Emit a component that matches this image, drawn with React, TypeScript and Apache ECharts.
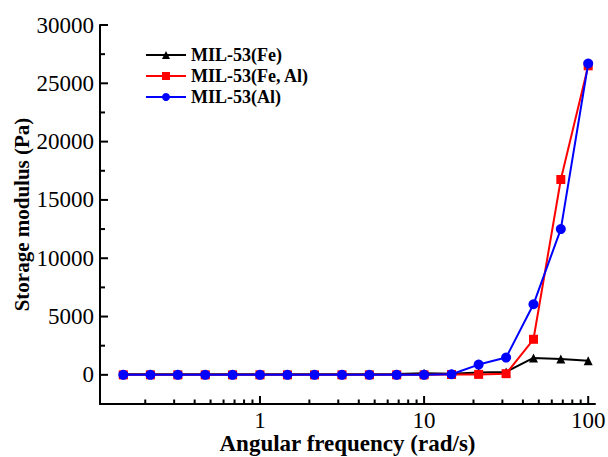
import React, { useEffect, useRef } from "react";
import * as echarts from "echarts";

const frequencies = [0.147, 0.215, 0.316, 0.464, 0.681, 1, 1.47, 2.15, 3.16, 4.64, 6.81, 10, 14.7, 21.5, 31.6, 46.4, 68.1, 100];
const feValues = [50, 50, 50, 50, 50, 50, 50, 50, 50, 60, 80, 130, 100, 200, 250, 1450, 1350, 1200];
const feAlValues = [0, 0, 0, 0, 0, 0, 0, 0, 0, 0, 0, 0, 30, 40, 100, 3050, 16750, 26500];
const alValues = [0, 0, 0, 0, 0, 0, 0, 0, 0, 0, 0, 0, 50, 880, 1480, 6050, 12500, 26700];
const seriesNames = ["MIL-53(Fe)", "MIL-53(Fe, Al)", "MIL-53(Al)"];
const seriesColors = ["#000000", "#ff0000", "#0000ff"];
const seriesSymbols = ["triangle", "rect", "circle"];
const majorXTicks = [1, 10, 100];
const minorXTicks = [0.2, 0.3, 0.4, 0.5, 0.6, 0.7, 0.8, 0.9, 2, 3, 4, 5, 6, 7, 8, 9, 20, 30, 40, 50, 60, 70, 80, 90];
const majorYTicks = [0, 5000, 10000, 15000, 20000, 25000, 30000];
const minorYTicks = [2500, 7500, 12500, 17500, 22500, 27500];

const FONT = "'Liberation Serif', 'Times New Roman', serif";
const X_MIN = 0.106;
const X_MAX = 110;
const Y_MIN = -2500;
const Y_MAX = 30000;

export default function App() {
  const ref = useRef<HTMLDivElement>(null);
  useEffect(() => {
    if (!ref.current) return;
    const chart = echarts.init(ref.current, null, { renderer: "svg" });
    const data = [feValues, feAlValues, alValues];
    const tickData = [
      ...majorXTicks.map((v) => [v, Y_MIN, 0, 8]),
      ...minorXTicks.map((v) => [v, Y_MIN, 0, 4.5]),
      ...majorYTicks.map((v) => [X_MIN, v, 1, 8]),
      ...minorYTicks.map((v) => [X_MIN, v, 1, 5]),
    ];
    chart.setOption({
      animation: false,
      backgroundColor: "#ffffff",
      grid: { left: 100, right: 13, top: 25, bottom: 53, containLabel: false, outerBoundsMode: "none" },
      legend: {
        left: 145,
        top: 46,
        padding: 0,
        orient: "vertical",
        itemWidth: 40,
        itemHeight: 10,
        itemGap: 3,
        data: seriesNames,
        textStyle: { fontFamily: FONT, fontWeight: "bold", fontSize: 18, color: "#000" },
      },
      xAxis: {
        type: "log",
        min: X_MIN,
        max: X_MAX,
        name: "Angular frequency (rad/s)",
        nameLocation: "middle",
        nameGap: 28,
        nameMoveOverlap: false,
        nameTextStyle: { fontFamily: FONT, fontWeight: "bold", fontSize: 23, color: "#000" },
        axisLine: { show: true, onZero: false, lineStyle: { color: "#000", width: 2 } },
        axisTick: { show: false },
        axisLabel: { show: true, customValues: majorXTicks, fontFamily: FONT, fontSize: 23, color: "#000", margin: 5, formatter: (v: number) => String(v) },
        splitLine: { show: false },
      },
      yAxis: {
        type: "value",
        min: Y_MIN,
        max: Y_MAX,
        interval: 2500,
        name: "Storage modulus (Pa)",
        nameLocation: "middle",
        nameGap: 68,
        nameMoveOverlap: false,
        nameTextStyle: { fontFamily: FONT, fontWeight: "bold", fontSize: 21, color: "#000" },
        axisLine: { show: true, onZero: false, lineStyle: { color: "#000", width: 2 } },
        axisTick: { show: false },
        axisLabel: {
          show: true,
          fontFamily: FONT,
          fontSize: 23,
          color: "#000",
          margin: 6,
          formatter: (v: number) => (v >= 0 && v % 5000 === 0 ? String(v) : ""),
        },
        splitLine: { show: false },
      },
      series: [
        {
          type: "custom",
          name: "ticks",
          coordinateSystem: "cartesian2d",
          silent: true,
          clip: false,
          z: 10,
          encode: { x: 0, y: 1 },
          data: tickData,
          renderItem: (params: any, api: any) => {
            const p = api.coord([api.value(0), api.value(1)]);
            const vertical = api.value(2) === 0;
            const len = api.value(3);
            return {
              type: "line",
              shape: vertical
                ? { x1: p[0], y1: p[1], x2: p[0], y2: p[1] - len }
                : { x1: p[0], y1: p[1], x2: p[0] + len, y2: p[1] },
              style: { stroke: "#000", lineWidth: 2 },
            };
          },
        },
        ...seriesNames.map((name, i) => ({
          name,
          type: "line",
          data: frequencies.map((f, j) => [f, data[i][j]]),
          symbol: seriesSymbols[i],
          symbolSize: i === 2 ? 10 : 9,
          showAllSymbol: true,
          itemStyle: { color: seriesColors[i] },
          lineStyle: { color: seriesColors[i], width: 2 },
          z: 2 + i,
        })),
      ],
    });
    return () => chart.dispose();
  }, []);
  return <div ref={ref} style={{ position: "fixed", left: 0, top: 0, width: 608, height: 457 }} />;
}
